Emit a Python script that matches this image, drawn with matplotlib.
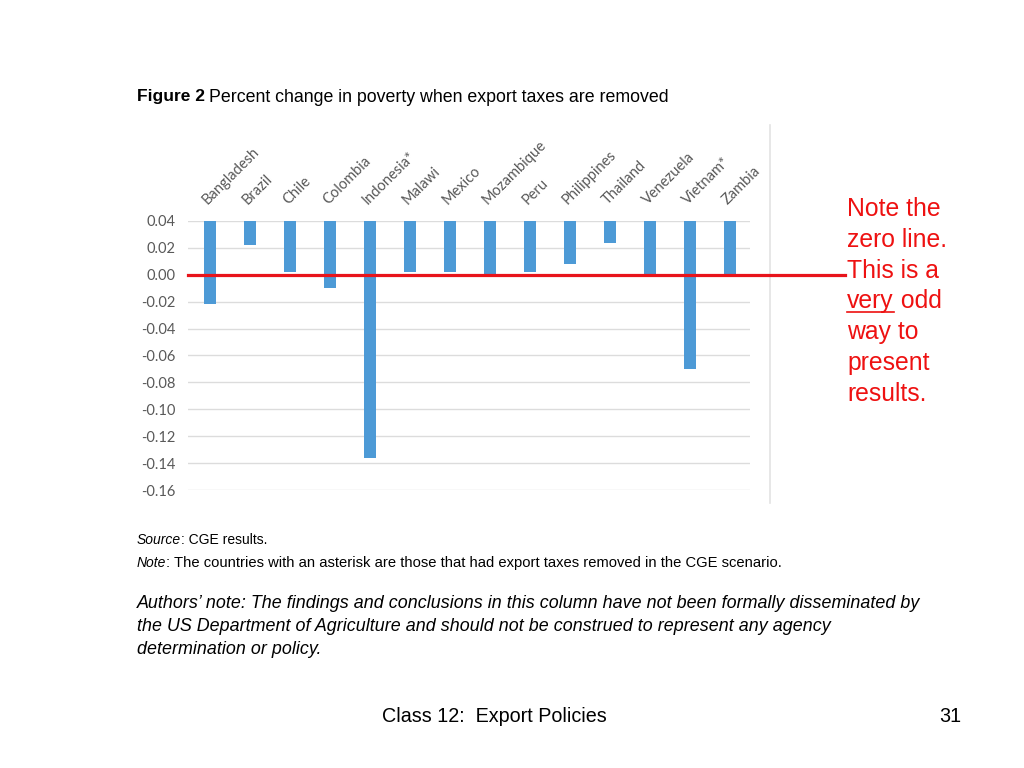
import numpy as np
import matplotlib.pyplot as plt
from matplotlib.lines import Line2D

countries = ['Bangladesh', 'Brazil', 'Chile', 'Colombia', 'Indonesia*', 'Malawi',
             'Mexico', 'Mozambique', 'Peru', 'Philippines', 'Thailand', 'Venezuela',
             'Vietnam*', 'Zambia']
pct_change = [-0.022, 0.022, 0.002, -0.010, -0.136, 0.002,
              0.002, -0.002, 0.002, 0.008, 0.024, -0.002,
              -0.070, -0.001]
y_ticks = [0.04, 0.02, 0.00, -0.02, -0.04, -0.06, -0.08, -0.10, -0.12, -0.14, -0.16]

W, H = 1024, 768
fig = plt.figure(figsize=(W / 100, H / 100), dpi=100)
fig.patch.set_facecolor('white')

# axes placed in pixel terms of the slide
ax_l, ax_r, ax_t, ax_b = 188, 750, 221, 490
ax = fig.add_axes([ax_l / W, 1 - ax_b / H, (ax_r - ax_l) / W, (ax_b - ax_t) / H])

x = np.arange(len(countries))
top = max(y_ticks)
# Excel-style: bars hang from the top of the axis
ax.bar(x, np.array(pct_change) - top, bottom=top, width=0.3, color='#4d9ad6', zorder=3)

ax.set_xlim(-0.55, len(countries) - 0.5)
ax.set_ylim(min(y_ticks), top)
ax.set_yticks(y_ticks)
ax.set_yticklabels(['{:.2f}'.format(v) for v in y_ticks], family='Lato', fontsize=10.5,
                   color='#595959')
ax.yaxis.grid(True, color='#dcdcdc', linewidth=1, zorder=0)
ax.tick_params(axis='y', length=0, pad=9)

ax.xaxis.tick_top()
ax.set_xticks(x)
ax.set_xticklabels(countries, rotation=45, ha='left', va='bottom', rotation_mode='anchor',
                   family='Lato', fontsize=10.5, color='#595959')
ax.tick_params(axis='x', length=0, pad=10)
for s in ax.spines.values():
    s.set_visible(False)

# red zero line running out to the note
ax.axhline(0, xmin=0, xmax=(845 - ax_l) / (ax_r - ax_l), color='#e8141b', linewidth=2.3,
           clip_on=False, zorder=5)

# chart frame edge
fig.add_artist(Line2D([770 / W, 770 / W], [1 - 125 / H, 1 - 503 / H], color='#e3e3e3',
                      linewidth=1.2, zorder=-1))

fig.canvas.draw()
r = fig.canvas.get_renderer()


def fit_text(xp, yp, s, width_px, **kw):
    # shrink/grow a line so it spans the same width as in the slide
    t = fig.text(xp / W, 1 - yp / H, s, va='center', **kw)
    w = t.get_window_extent(r).width
    t.set_fontsize(t.get_fontsize() * width_px / w)
    return t


# figure heading
t1 = fig.text(137 / W, 1 - 97 / H, 'Figure 2', fontsize=12.5, fontweight='bold',
              family='Liberation Sans', va='center')
bb = t1.get_window_extent(r)
fit_text(bb.x1 + 4, 97, 'Percent change in poverty when export taxes are removed',
         670 - bb.x1 - 4, fontsize=12.5, family='Liberation Sans')

# source and notes
sans = 'Liberation Sans'
s1 = fig.text(137 / W, 1 - 540 / H, 'Source', fontsize=10, style='italic', family=sans, va='center')
bb = s1.get_window_extent(r)
fig.text(bb.x1 / W, 1 - 540 / H, ': CGE results.', fontsize=10, family=sans, va='center')
n1 = fig.text(137 / W, 1 - 563 / H, 'Note', fontsize=10, style='italic', family=sans, va='center')
bb = n1.get_window_extent(r)
fit_text(bb.x1, 563,
         ': The countries with an asterisk are those that had export taxes removed in the CGE scenario.',
         781 - bb.x1, fontsize=10, family=sans)

authors = ["Authors\u2019 note: The findings and conclusions in this column have not been formally disseminated by",
           'the US Department of Agriculture and should not be construed to represent any agency',
           'determination or policy.']
t0 = fit_text(137, 603, authors[0], 912 - 137, fontsize=13, style='italic', family=sans)
for i, line in enumerate(authors[1:], start=1):
    fig.text(137 / W, 1 - (603 + 23.5 * i) / H, line, fontsize=t0.get_fontsize(), style='italic',
             family=sans, va='center')

# footer
fig.text(494 / W, 1 - 717 / H, 'Class 12:  Export Policies', fontsize=14.2,
         family='Liberation Sans', ha='center', va='center')
fig.text(950 / W, 1 - 717 / H, '31', fontsize=14.2, family='Liberation Sans',
         ha='center', va='center')

# red side note
note_lines = ['Note the', 'zero line.', 'This is a', None, 'way to', 'present', 'results.']
red = '#ee1111'
fs = 17.8
for i, line in enumerate(note_lines):
    y = 1 - (209 + 30.8 * i) / H
    if line is None:
        v = fig.text(847 / W, y, 'very', fontsize=fs, color=red, family='Liberation Sans', va='center')
        vb = v.get_window_extent(r)
        fig.text(vb.x1 / W, y, ' odd', fontsize=fs, color=red, family='Liberation Sans', va='center')
        fig.add_artist(Line2D([vb.x0 / W, vb.x1 / W], [(vb.y0 + 1) / H, (vb.y0 + 1) / H],
                              color=red, linewidth=1.2))
    else:
        fig.text(847 / W, y, line, fontsize=fs, color=red, family='Liberation Sans', va='center')

fig.savefig('out.png', dpi=100, facecolor='white')
